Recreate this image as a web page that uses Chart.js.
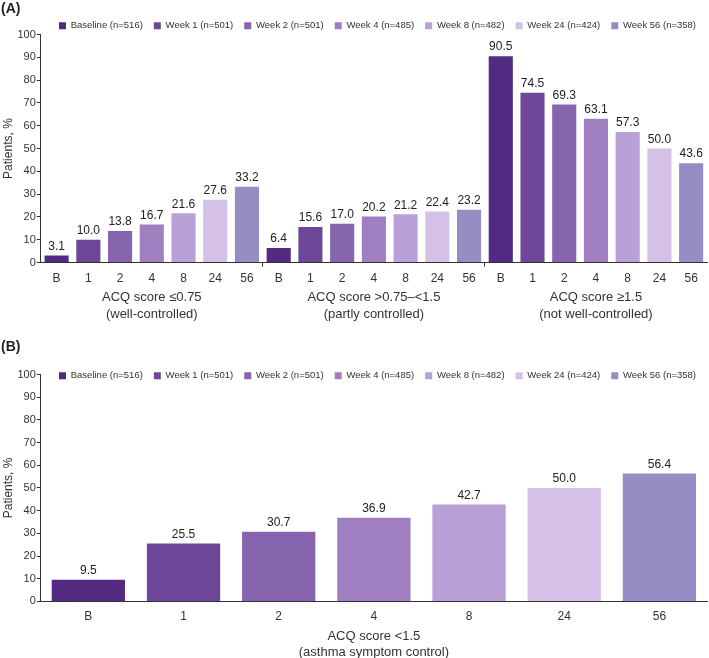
<!DOCTYPE html>
<html>
<head>
<meta charset="utf-8">
<script src="https://cdn.jsdelivr.net/npm/chart.js@4.4.1/dist/chart.umd.min.js"></script>
<style>
   body { margin: 0; background: #fff; font-family: "Liberation Sans", Arial, sans-serif; }
   .panel { position: relative; width: 709px; }
   .tag { position: absolute; left: 1px; font-weight: bold; font-size: 14px; color: #222; }
</style>
</head>
<body>
<div class="panel" style="height:328px">
   <div class="tag" style="top:0px">(A)</div>
   <canvas id="chartA"></canvas>
</div>
<div class="panel" style="height:330px">
   <div class="tag" style="top:10px">(B)</div>
   <canvas id="chartB"></canvas>
</div>
<script>
// DATA
var SERIES = ['Baseline (n=516)', 'Week 1 (n=501)', 'Week 2 (n=501)', 'Week 4 (n=485)',
   'Week 8 (n=482)', 'Week 24 (n=424)', 'Week 56 (n=358)'];
var WEEKS = ['B', '1', '2', '4', '8', '24', '56'];
var GROUPS = [
   ['ACQ score \u22640.75', '(well-controlled)'],
   ['ACQ score >0.75\u2013<1.5', '(partly controlled)'],
   ['ACQ score \u22651.5', '(not well-controlled)']
];
var wellControlled = [3.1, 10.0, 13.8, 16.7, 21.6, 27.6, 33.2];
var partlyControlled = [6.4, 15.6, 17.0, 20.2, 21.2, 22.4, 23.2];
var notWellControlled = [90.5, 74.5, 69.3, 63.1, 57.3, 50.0, 43.6];
var symptomControl = [9.5, 25.5, 30.7, 36.9, 42.7, 50.0, 56.4];
var COLORS = ['#532a82', '#6e4799', '#8765ae', '#a07fc0', '#b9a0d6', '#d5c0e8', '#968dc4'];

var FONT = '"Liberation Sans", Arial, sans-serif';
Chart.defaults.font.family = FONT;
Chart.defaults.color = '#333';

// value labels above bars
var valueLabels = {
   id: 'valueLabels',
   afterDatasetsDraw: function (chart) {
      var ctx = chart.ctx;
      ctx.save();
      ctx.font = '12px ' + FONT;
      ctx.fillStyle = '#222';
      ctx.textAlign = 'center';
      ctx.textBaseline = 'bottom';
      chart.data.datasets.forEach(function (ds, i) {
         chart.getDatasetMeta(i).data.forEach(function (bar, j) {
            var v = ds.data[j];
            if (v === null || v === undefined) return;
            ctx.fillText(v.toFixed(1), bar.x, bar.y - 3);
         });
      });
      ctx.restore();
   }
};

// group names under the week ticks of chart A
var groupLabels = {
   id: 'groupLabels',
   afterDraw: function (chart, args, opts) {
      var xs = chart.scales.x;
      var ctx = chart.ctx;
      ctx.save();
      ctx.font = '13px ' + FONT;
      ctx.fillStyle = '#333';
      ctx.textAlign = 'center';
      ctx.textBaseline = 'middle';
      GROUPS.forEach(function (lines, g) {
         var n = WEEKS.length;
         var x = (xs.getPixelForValue(g * n) + xs.getPixelForValue(g * n + n - 1)) / 2;
         lines.forEach(function (t, k) {
            ctx.fillText(t, x, xs.bottom + opts.offset + k * opts.lineGap);
         });
      });
      ctx.restore();
   }
};

// let the legend sit over the top of the plot area
var legendShift = {
   id: 'legendShift',
   beforeInit: function (chart, args, opts) {
      var lg = chart.legend;
      if (!lg) return;
      var fit = lg.fit;
      lg.fit = function () {
         fit.call(this);
         this.height -= opts.shrink || 0;
      };
      if (lg._draw) {
         lg.draw = function () {
            if (this.options.display) this._draw();
         };
      }
   }
};

function legendOpts() {
   return {
      position: 'top',
      align: 'end',
      labels: { boxWidth: 7, boxHeight: 7, padding: 11, font: { size: 9.5 }, color: '#333' }
   };
}

function yAxis() {
   return {
      min: 0, max: 100,
      ticks: { stepSize: 10, font: { size: 11 }, color: '#333', padding: 1 },
      grid: { drawOnChartArea: false, color: '#333', tickLength: 4 },
      border: { color: '#333' },
      title: { display: true, text: 'Patients, %', font: { size: 12 }, color: '#333', padding: 1 }
   };
}

// CHART A - three groups
var labelsA = [];
GROUPS.forEach(function () { labelsA = labelsA.concat(WEEKS); });
var groupData = [wellControlled, partlyControlled, notWellControlled];
var datasetsA = SERIES.map(function (name, i) {
   var d = [];
   groupData.forEach(function (g) {
      WEEKS.forEach(function (w, j) { d.push(j === i ? g[i] : null); });
   });
   return {
      label: name, data: d, backgroundColor: COLORS[i],
      grouped: false, barPercentage: 0.76, categoryPercentage: 1
   };
});

new Chart(document.getElementById('chartA'), {
   type: 'bar',
   data: { labels: labelsA, datasets: datasetsA },
   options: {
      responsive: true, maintainAspectRatio: false, animation: false,
      layout: { padding: { left: 0, right: 2, top: 10, bottom: 37 } },
      plugins: {
         legend: legendOpts(), legendShift: { shrink: 6 },
         groupLabels: { offset: 6, lineGap: 17 },
         tooltip: { enabled: false }
      },
      scales: {
         x: {
            ticks: { font: { size: 12 }, color: '#333', padding: 5, autoSkip: false, maxRotation: 0 },
            grid: {
               drawOnChartArea: false, tickLength: 4,
               color: function (c) { return (c.index === 7 || c.index === 14) ? '#333' : 'rgba(0,0,0,0)'; }
            },
            border: { color: '#333' }
         },
         y: yAxis()
      }
   },
   plugins: [valueLabels, groupLabels, legendShift]
});

// CHART B - ACQ < 1.5
var datasetsB = SERIES.map(function (name, i) {
   return {
      label: name,
      data: WEEKS.map(function (w, j) { return j === i ? symptomControl[i] : null; }),
      backgroundColor: COLORS[i], grouped: false, barPercentage: 0.77, categoryPercentage: 1
   };
});

new Chart(document.getElementById('chartB'), {
   type: 'bar',
   data: { labels: WEEKS, datasets: datasetsB },
   options: {
      responsive: true, maintainAspectRatio: false, animation: false,
      layout: { padding: { left: 0, right: 2, top: 32, bottom: -2 } },
      plugins: { legend: legendOpts(), legendShift: { shrink: 16 }, tooltip: { enabled: false } },
      scales: {
         x: {
            ticks: { font: { size: 12 }, color: '#333', padding: 0 },
            grid: { display: false },
            border: { color: '#333' },
            title: {
               display: true, text: ['ACQ score <1.5', '(asthma symptom control)'],
               font: { size: 13 }, color: '#333', padding: { top: 5, bottom: 0 }
            }
         },
         y: yAxis()
      }
   },
   plugins: [valueLabels, legendShift]
});
</script>
</body>
</html>
